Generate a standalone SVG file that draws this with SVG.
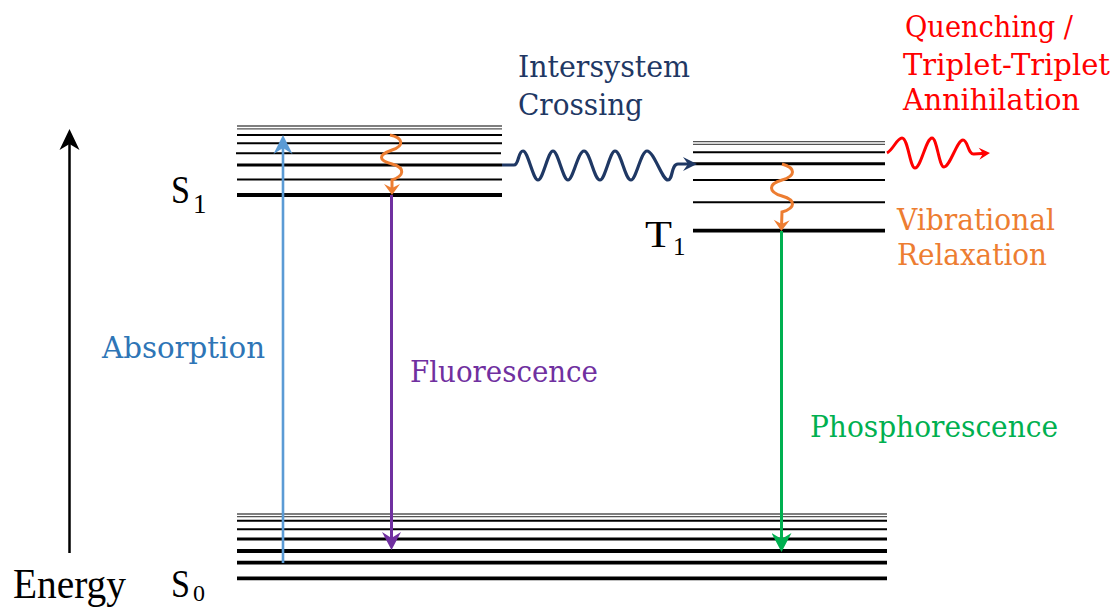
<svg xmlns="http://www.w3.org/2000/svg" width="1115" height="607" viewBox="0 0 1115 607">
<style>
.lbl{font-family:"DejaVu Serif","Liberation Serif",serif;font-size:29px}
.big{font-family:"Liberation Serif","DejaVu Serif",serif}
.lv{stroke:#000;fill:none}
.g{stroke:#555;stroke-width:1.3}
.t2{stroke-width:2}
.t3{stroke-width:3}
.t4{stroke-width:3.8}
</style>
<defs>
<marker id="hk" viewBox="-22 -11 22 22" refX="-6" refY="0" markerWidth="22" markerHeight="22" markerUnits="userSpaceOnUse" orient="auto"><path d="M0,0 L-21,-10 L-15,0 L-21,10 Z" fill="#000"/></marker>
<marker id="hb" viewBox="-20 -10 20 20" refX="-6" refY="0" markerWidth="20" markerHeight="20" markerUnits="userSpaceOnUse" orient="auto"><path d="M0,0 L-19,-9.5 L-13,0 L-19,9.5 Z" fill="#5B9BD5"/></marker>
<marker id="hp" viewBox="-20 -10 20 20" refX="-6" refY="0" markerWidth="20" markerHeight="20" markerUnits="userSpaceOnUse" orient="auto"><path d="M0,0 L-18,-9.5 L-12,0 L-18,9.5 Z" fill="#7030A0"/></marker>
<marker id="hg" viewBox="-20 -10 20 20" refX="-6" refY="0" markerWidth="20" markerHeight="20" markerUnits="userSpaceOnUse" orient="auto"><path d="M0,0 L-19,-10 L-13,0 L-19,10 Z" fill="#00B050"/></marker>
<marker id="ho" viewBox="-12 -9 12 18" refX="-4" refY="0" markerWidth="12" markerHeight="18" markerUnits="userSpaceOnUse" orient="auto"><path d="M0,0 L-11,-8 L-7,0 L-11,8 Z" fill="#ED7D31"/></marker>
<marker id="hn" viewBox="-15 -8 15 16" refX="-4" refY="0" markerWidth="15" markerHeight="16" markerUnits="userSpaceOnUse" orient="auto"><path d="M0,0 L-14,-7 L-9,0 L-14,7 Z" fill="#1F3864"/></marker>
<marker id="hr" viewBox="-12 -7 12 14" refX="-4" refY="0" markerWidth="12" markerHeight="14" markerUnits="userSpaceOnUse" orient="auto"><path d="M0,0 L-11,-6 L-7,0 L-11,6 Z" fill="#FF0000"/></marker>
</defs>
<rect width="1115" height="607" fill="#fff"/>

<g id="S1">
<line class="lv g" x1="237" y1="126" x2="502" y2="126"/>
<line class="lv g" x1="237" y1="128.8" x2="502" y2="128.8"/>
<line class="lv t2" x1="237" y1="135" x2="502" y2="135"/>
<line class="lv t2" x1="237" y1="143.3" x2="502" y2="143.3"/>
<line class="lv t2" x1="236" y1="153.3" x2="501" y2="153.3"/>
<line class="lv t3" x1="237" y1="165" x2="502" y2="165"/>
<line class="lv t2" x1="237" y1="179.5" x2="502" y2="179.5"/>
<line class="lv t4" x1="237" y1="195" x2="502" y2="195"/>
<text class="big" x="171" y="203" font-size="40" textLength="19" lengthAdjust="spacingAndGlyphs">S</text>
<text class="big" x="193" y="213" font-size="27">1</text>
</g>

<g id="T1">
<line class="lv g" x1="693" y1="141.7" x2="885" y2="141.7"/>
<line class="lv g" x1="693" y1="144.3" x2="885" y2="144.3"/>
<line class="lv t2" x1="693" y1="152.3" x2="885" y2="152.3"/>
<line class="lv t3" x1="693" y1="163.7" x2="885" y2="163.7"/>
<line class="lv t2" x1="693" y1="180" x2="885" y2="180"/>
<line class="lv t2" x1="693" y1="202.3" x2="885" y2="202.3"/>
<line class="lv t4" x1="693" y1="230.7" x2="885" y2="230.7"/>
<text class="big" x="645" y="247" font-size="37" textLength="27" lengthAdjust="spacingAndGlyphs">T</text>
<text class="big" x="673" y="255" font-size="25">1</text>
</g>

<g id="S0">
<line class="lv g" x1="237" y1="514" x2="887" y2="514"/>
<line class="lv g" x1="237" y1="516.6" x2="887" y2="516.6"/>
<line class="lv t2" x1="237" y1="520.8" x2="887" y2="520.8"/>
<line class="lv t2" x1="237" y1="529.3" x2="887" y2="529.3"/>
<line class="lv t3" x1="237" y1="539" x2="887" y2="539"/>
<line class="lv t4" x1="237" y1="551" x2="887" y2="551"/>
<line class="lv t4" x1="237" y1="562.7" x2="887" y2="562.7"/>
<line class="lv t4" x1="237" y1="578.3" x2="887" y2="578.3"/>
<text class="big" x="171" y="597" font-size="40" textLength="19" lengthAdjust="spacingAndGlyphs">S</text>
<text class="big" x="193" y="601" font-size="24">0</text>
</g>

<g id="energy">
<text class="big" x="13" y="598" font-size="42" textLength="113" lengthAdjust="spacingAndGlyphs">Energy</text>
</g>

<g id="labels">
<text class="lbl" x="102" y="358" fill="#2E75B6" textLength="163" lengthAdjust="spacingAndGlyphs">Absorption</text>
<text class="lbl" x="410" y="382" fill="#7030A0" textLength="188" lengthAdjust="spacingAndGlyphs">Fluorescence</text>
<text class="lbl" x="810" y="437" fill="#00B050" textLength="248" lengthAdjust="spacingAndGlyphs">Phosphorescence</text>
<text class="lbl" x="518" y="77" fill="#1F3864" textLength="172" lengthAdjust="spacingAndGlyphs">Intersystem</text>
<text class="lbl" x="518" y="115" fill="#1F3864" textLength="125" lengthAdjust="spacingAndGlyphs">Crossing</text>
<text class="lbl" x="905" y="37" fill="#FF0000" textLength="168" lengthAdjust="spacingAndGlyphs">Quenching /</text>
<text class="lbl" x="903" y="75" fill="#FF0000" textLength="207" lengthAdjust="spacingAndGlyphs">Triplet-Triplet</text>
<text class="lbl" x="903" y="110" fill="#FF0000" textLength="177" lengthAdjust="spacingAndGlyphs">Annihilation</text>
<text class="lbl" x="897" y="230" fill="#ED7D31" textLength="158" lengthAdjust="spacingAndGlyphs">Vibrational</text>
<text class="lbl" x="897" y="265" fill="#ED7D31" textLength="150" lengthAdjust="spacingAndGlyphs">Relaxation</text>
</g>

<g id="connectors" fill="none">
<line x1="69.5" y1="553" x2="69.5" y2="135" stroke="#000" stroke-width="2.5" marker-end="url(#hk)"/>
<line x1="283" y1="563" x2="283" y2="141" stroke="#5B9BD5" stroke-width="2.6" marker-end="url(#hb)"/>
<line x1="391.5" y1="195" x2="391.5" y2="544" stroke="#7030A0" stroke-width="3" marker-end="url(#hp)"/>
<line x1="781.5" y1="231" x2="781.5" y2="546" stroke="#00B050" stroke-width="3" marker-end="url(#hg)"/>
<path d="M390,135 C404,138 404,146 392,150 C378,155 378,160 392,164 C406,168 404,176 392,180 L392,191" stroke="#ED7D31" stroke-width="3" marker-end="url(#ho)"/>
<path d="M782,164 C796,168 796,176 782,180 C768,184 768,192 782,196 C796,200 796,208 782,212 L781.5,227" stroke="#ED7D31" stroke-width="3" marker-end="url(#ho)"/>
<path d="M502,165 L514,165 C519,165 518,151 523,151 C528,151 533,180 538,180 C543,180 548,151 553,151 C558,151 563,180 568,180 C573,180 578,151 584,151 C590,151 594,180 600,180 C605,180 610,151 615,151 C621,151 625,180 631,180 C636,180 641,151 647,151 C654,151 662,180 668,180 C673,180 671,164 678,164 L693,164" stroke="#1F3864" stroke-width="3.2" marker-end="url(#hn)"/>
<path d="M887,153 C893,150 897,138 902,138 C908,138 910,168 915,168 C921,168 926,138 932,138 C937,138 939,167 944,167 C950,167 957,140 963,140 C968,140 968,155 974,154 L986,153.3" stroke="#FF0000" stroke-width="3" marker-end="url(#hr)"/>
</g>
</svg>
